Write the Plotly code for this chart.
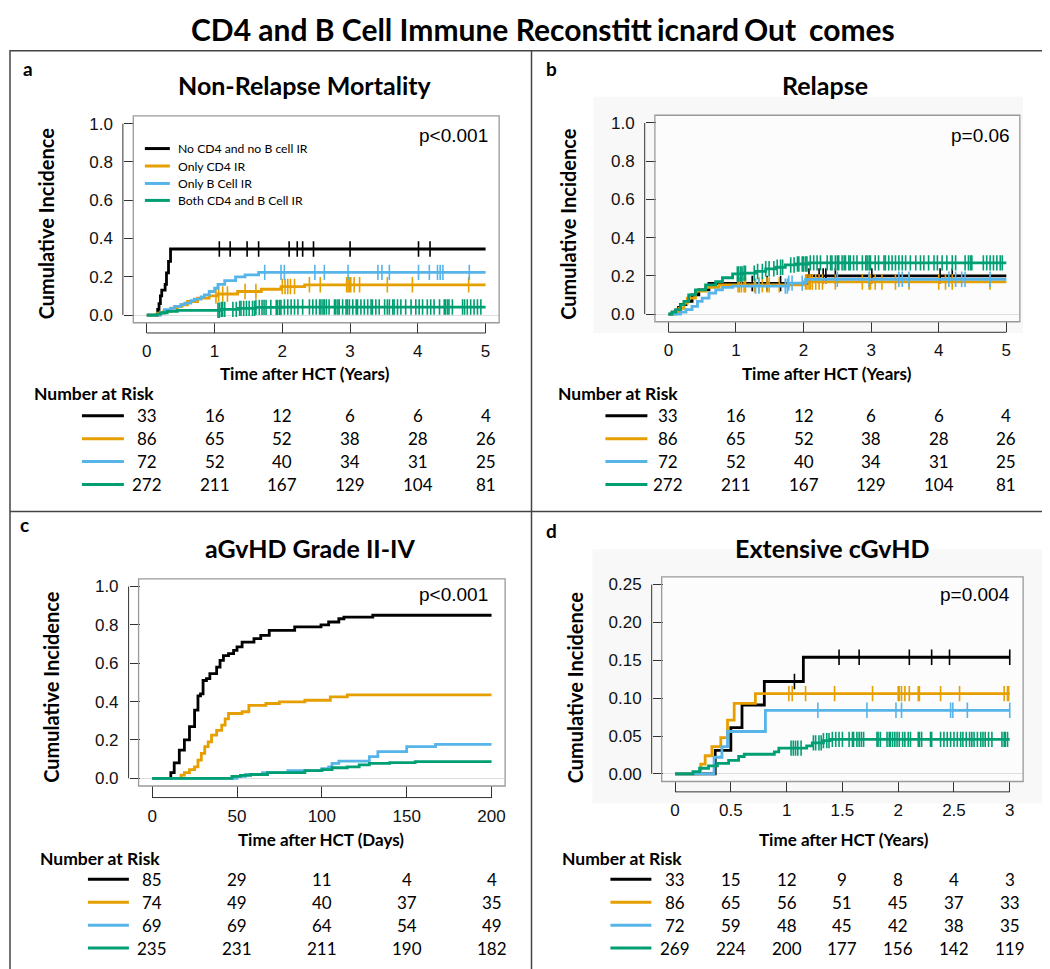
import numpy as np
import plotly.graph_objects as go

W, H = 1050, 969
def PX(x): return x / W
def PY(y): return 1 - y / H

GROUPS = ["No CD4 and no B cell IR", "Only CD4 IR", "Only B Cell IR", "Both CD4 and B Cell IR"]
COLORS = ["#000000", "#E69F00", "#56B4E9", "#009E73"]

# ---------------- Panel a: Non-Relapse Mortality (years) ----------------
a_black_t = [0, 0.16, 0.18, 0.2, 0.22, 0.27, 0.29, 0.32, 0.35, 5]
a_black_y = [0, 0.03, 0.06, 0.1, 0.13, 0.16, 0.22, 0.28, 0.345, 0.345]
a_black_c = [1.07, 1.23, 1.48, 1.65, 2.10, 2.22, 2.30, 2.46, 3.0, 4.01, 4.18]
a_orange_t = [0, 0.16, 0.25, 0.36, 0.45, 0.52, 0.6, 0.75, 0.92, 1.05, 1.34, 1.69, 1.98, 2.33, 5]
a_orange_y = [0, 0.01, 0.02, 0.036, 0.045, 0.054, 0.071, 0.089, 0.1, 0.11, 0.123, 0.135, 0.149, 0.158, 0.158]
a_orange_c = [1.02, 1.06, 1.12, 1.19, 1.45, 1.61, 2.0, 2.04, 2.08, 2.12, 2.18, 2.4, 2.56, 2.95, 2.97,
              2.99, 3.01, 3.06, 3.14, 3.55, 3.92, 4.75]
a_blue_t = [0, 0.2, 0.26, 0.35, 0.41, 0.5, 0.56, 0.65, 0.7, 0.8, 0.85, 0.92, 1.0, 1.05, 1.15, 1.31, 1.45, 1.65, 5]
a_blue_y = [0, 0.01, 0.028, 0.035, 0.045, 0.055, 0.0625, 0.075, 0.083, 0.095, 0.106, 0.123, 0.14, 0.16,
            0.18, 0.2, 0.21, 0.223, 0.223]
a_blue_c = [1.74, 1.98, 2.03, 2.48, 2.62, 2.97, 3.41, 3.47, 3.58, 4.01, 4.17, 4.29, 4.33, 4.37, 4.76]
a_green_t = [0, 0.15, 0.2, 0.3, 0.45, 1.1, 1.35, 1.6, 2.0, 5]
a_green_y = [0, 0.005, 0.012, 0.019, 0.025, 0.03, 0.035, 0.04, 0.042, 0.042]
a_green_c = [1.05, 1.07, 1.10, 1.12, 1.15, 1.27, 1.32, 1.37, 1.39, 1.43, 1.47, 1.51, 1.56, 1.59, 1.61,
             1.66, 1.70, 1.73, 1.76, 1.83, 1.91, 1.93, 1.96, 1.98, 2.03, 2.08, 2.13, 2.18, 2.23, 2.30,
             2.40, 2.45, 2.50, 2.55, 2.57, 2.60, 2.62, 2.65, 2.69, 2.77, 2.79, 2.82, 2.84, 2.89, 2.94,
             2.96, 2.99, 3.04, 3.09, 3.11, 3.16, 3.21, 3.26, 3.31, 3.33, 3.38, 3.43, 3.51, 3.55, 3.58,
             3.63, 3.65, 3.70, 3.75, 3.82, 3.90, 3.97, 4.02, 4.07, 4.14, 4.19, 4.24, 4.32, 4.39, 4.41,
             4.44, 4.46, 4.51, 4.66, 4.69, 4.73, 4.78, 4.83, 4.88, 4.93]

# ---------------- Panel b: Relapse (years) ----------------
b_black_t = [0, 0.06, 0.11, 0.15, 0.18, 0.26, 0.35, 0.45, 0.6, 2.05, 5]
b_black_y = [0, 0.01, 0.02, 0.035, 0.05, 0.066, 0.1, 0.127, 0.16, 0.2, 0.2]
b_black_c = [1.24, 1.46, 1.66, 2.08, 2.23, 2.29, 2.33, 2.47, 3.01, 4.02, 4.2]
b_orange_t = [0, 0.11, 0.16, 0.23, 0.28, 0.4, 0.55, 0.75, 2.0, 5]
b_orange_y = [0, 0.01, 0.03, 0.057, 0.083, 0.12, 0.14, 0.153, 0.168, 0.168]
b_orange_c = [1.03, 1.05, 1.08, 1.12, 1.14, 1.27, 1.34, 1.39, 1.46, 1.49, 1.64, 2.03, 2.05, 2.08, 2.1,
              2.13, 2.18, 2.23, 2.28, 2.47, 2.87, 2.97, 2.99, 3.06, 3.16, 3.36, 3.56, 4.0, 4.1, 4.2, 4.76]
b_blue_t = [0, 0.18, 0.26, 0.35, 0.43, 0.5, 0.6, 0.7, 0.8, 0.95, 1.78, 2.03, 5]
b_blue_y = [0, 0.01, 0.023, 0.04, 0.066, 0.083, 0.11, 0.127, 0.14, 0.146, 0.162, 0.182, 0.182]
b_blue_c = [1.29, 1.34, 1.73, 1.76, 1.78, 1.83, 1.98, 2.5, 2.97, 3.41, 3.46, 3.56, 4.15, 4.25, 4.34,
            4.39, 4.76]
b_green_t = [0, 0.05, 0.11, 0.18, 0.23, 0.3, 0.4, 0.55, 0.7, 0.8, 0.95, 1.1, 1.3, 1.44, 1.59, 1.73,
             1.88, 2.08, 5]
b_green_y = [0, 0.01, 0.023, 0.049, 0.066, 0.1, 0.127, 0.153, 0.17, 0.19, 0.21, 0.214, 0.223, 0.237,
             0.245, 0.257, 0.262, 0.268, 0.268]
b_green_c = [1.02, 1.04, 1.07, 1.09, 1.12, 1.14, 1.27, 1.32, 1.39, 1.44, 1.49, 1.56, 1.61, 1.66, 1.69,
             1.81, 1.86, 1.91, 1.93, 1.98, 2.0, 2.03, 2.05, 2.10, 2.15, 2.2, 2.25, 2.35, 2.4, 2.42,
             2.47, 2.5, 2.52, 2.57, 2.6, 2.62, 2.67, 2.69, 2.74, 2.79, 2.87, 2.92, 2.94, 2.97, 2.99,
             3.06, 3.11, 3.19, 3.21, 3.26, 3.31, 3.36, 3.41, 3.46, 3.51, 3.58, 3.66, 3.73, 3.78, 3.85,
             3.93, 3.98, 4.05, 4.12, 4.2, 4.25, 4.39, 4.44, 4.47, 4.49, 4.66, 4.71, 4.76, 4.81, 4.86,
             4.91, 4.94]

# ---------------- Panel c: aGvHD Grade II-IV (days) ----------------
c_black_t = [0, 11, 13, 16, 19, 22, 25, 27, 28.5, 30, 32, 34, 38, 40, 42, 45, 48, 50, 53, 60, 64, 69,
             84, 99.5, 104, 110, 113, 130, 200]
c_black_y = [0, 0.03, 0.08, 0.147, 0.2, 0.27, 0.355, 0.43, 0.44, 0.51, 0.52, 0.546, 0.58, 0.615, 0.64,
             0.65, 0.667, 0.685, 0.71, 0.728, 0.745, 0.771, 0.789, 0.8, 0.815, 0.832, 0.84, 0.85, 0.85]
c_orange_t = [0, 17, 19, 22, 25, 27, 29, 31, 33, 35, 38, 41, 43, 45, 53, 57, 67, 75, 90, 105, 115, 200]
c_orange_y = [0, 0.017, 0.03, 0.045, 0.06, 0.095, 0.13, 0.165, 0.19, 0.225, 0.25, 0.277, 0.31, 0.338,
              0.347, 0.38, 0.39, 0.398, 0.407, 0.425, 0.435, 0.435]
c_blue_t = [0, 50, 55, 65, 80, 100, 104, 106, 110, 128, 133, 150, 167, 200]
c_blue_y = [0, 0.01, 0.02, 0.03, 0.04, 0.05, 0.06, 0.078, 0.09, 0.113, 0.139, 0.165, 0.177, 0.177]
c_green_t = [0, 47, 52, 58, 68, 90, 100, 106, 115, 122, 128, 140, 155, 200]
c_green_y = [0, 0.01, 0.015, 0.02, 0.03, 0.04, 0.045, 0.055, 0.06, 0.07, 0.078, 0.082, 0.087, 0.087]

# ---------------- Panel d: Extensive cGvHD (years) ----------------
d_black_t = [0, 0.36, 0.5, 0.6, 0.8, 1.15, 3]
d_black_y = [0, 0.031, 0.061, 0.091, 0.122, 0.154, 0.154]
d_black_c = [1.07, 1.47, 1.65, 2.10, 2.30, 2.46, 3.0]
d_orange_t = [0, 0.23, 0.27, 0.33, 0.41, 0.47, 0.53, 0.72, 3]
d_orange_y = [0, 0.013, 0.024, 0.036, 0.048, 0.071, 0.093, 0.106, 0.106]
d_orange_c = [1.02, 1.05, 1.17, 1.43, 1.77, 2.0, 2.01, 2.03, 2.06, 2.10, 2.18, 2.19, 2.38, 2.55, 2.95,
              2.98, 2.99]
d_blue_t = [0, 0.35, 0.42, 0.47, 0.81, 3]
d_blue_y = [0, 0.022, 0.036, 0.056, 0.084, 0.084]
d_blue_c = [1.28, 1.72, 1.98, 2.03, 2.47, 2.49, 2.62, 3.0]
d_green_t = [0, 0.16, 0.22, 0.3, 0.38, 0.48, 0.57, 0.62, 0.89, 0.93, 1.18, 1.23, 1.33, 1.39, 3]
d_green_y = [0, 0.003, 0.0075, 0.0105, 0.014, 0.018, 0.023, 0.026, 0.029, 0.034, 0.037, 0.041, 0.044,
             0.0456, 0.0456]
d_green_c = [1.04, 1.06, 1.08, 1.10, 1.13, 1.24, 1.26, 1.29, 1.31, 1.33, 1.36, 1.38, 1.41, 1.44, 1.47,
             1.50, 1.56, 1.59, 1.60, 1.63, 1.65, 1.67, 1.69, 1.81, 1.82, 1.84, 1.90, 1.92, 1.93, 1.95,
             1.97, 1.99, 2.01, 2.04, 2.06, 2.09, 2.11, 2.18, 2.19, 2.21, 2.29, 2.30, 2.38, 2.41, 2.44,
             2.47, 2.50, 2.53, 2.56, 2.58, 2.61, 2.64, 2.66, 2.68, 2.71, 2.74, 2.76, 2.78, 2.81, 2.84,
             2.93, 2.95, 2.96, 2.98]

# ---------------- Number at risk ----------------
risk_times_ab = [0, 1, 2, 3, 4, 5]
risk_ab = [[33, 16, 12, 6, 6, 4],
           [86, 65, 52, 38, 28, 26],
           [72, 52, 40, 34, 31, 25],
           [272, 211, 167, 129, 104, 81]]
risk_times_c = [0, 50, 100, 150, 200]
risk_c = [[85, 29, 11, 4, 4],
          [74, 49, 40, 37, 35],
          [69, 69, 64, 54, 49],
          [235, 231, 211, 190, 182]]
risk_times_d = [0, 0.5, 1, 1.5, 2, 2.5, 3]
risk_d = [[33, 15, 12, 9, 8, 4, 3],
          [86, 65, 56, 51, 45, 37, 33],
          [72, 59, 48, 45, 42, 38, 35],
          [269, 224, 200, 177, 156, 142, 119]]

TITLE_FONT = "Lato"
NUM_FONT = "Liberation Sans"

panels = [
    dict(key="a", title="Non-Relapse Mortality", p="p<0.001", xl="Time after HCT (Years)",
         curves=[(a_black_t, a_black_y, a_black_c), (a_orange_t, a_orange_y, a_orange_c),
                 (a_blue_t, a_blue_y, a_blue_c), (a_green_t, a_green_y, a_green_c)],
         xdom=(125.4, 491.6), ydom=(107.3, 314.7), xr=[-0.2, 5.2], yr=[-0.04, 1.04],
         xt=[0, 1, 2, 3, 4, 5], xtt=["0", "1", "2", "3", "4", "5"], yt=[0, 0.2, 0.4, 0.6, 0.8, 1.0], yfmt=".1f",
         ypos=115, xpos=325, lab=(13, 60), tpos=(297, 76), ppos=(482, 127), ytpos=(38, 215), xtpos=(297, 366),
         risk_t=risk_times_ab, risk=risk_ab, nar=(24, 386), rows=[408, 431, 454, 477], sw=(74, 116), bg=None),
    dict(key="b", title="Relapse", p="p=0.06", xl="Time after HCT (Years)",
         curves=[(b_black_t, b_black_y, b_black_c), (b_orange_t, b_orange_y, b_orange_c),
                 (b_blue_t, b_blue_y, b_blue_c), (b_green_t, b_green_y, b_green_c)],
         xdom=(647.5, 1012.8), ydom=(106.6, 313.7), xr=[-0.2, 5.2], yr=[-0.04, 1.04],
         xt=[0, 1, 2, 3, 4, 5], xtt=["0", "1", "2", "3", "4", "5"], yt=[0, 0.2, 0.4, 0.6, 0.8, 1.0], yfmt=".1f",
         ypos=637.3, xpos=324.3, lab=(537, 60), tpos=(818, 76), ppos=(1005, 127), ytpos=(561, 215),
         xtpos=(820, 366),
         risk_t=risk_times_ab, risk=risk_ab, nar=(549, 386), rows=[408, 431, 454, 477], sw=(598, 640),
         bg=(586, 88, 1016, 325)),
    dict(key="c", title="aGvHD Grade II-IV", p="p<0.001", xl="Time after HCT (Days)",
         curves=[(c_black_t, c_black_y, []), (c_orange_t, c_orange_y, []),
                 (c_blue_t, c_blue_y, []), (c_green_t, c_green_y, [])],
         xdom=(130.7, 497.6), ydom=(571.6, 779.4), xr=[-8, 208], yr=[-0.04, 1.04],
         xt=[0, 50, 100, 150, 200], xtt=["0", "50", "100", "150", "200"], yt=[0, 0.2, 0.4, 0.6, 0.8, 1.0],
         yfmt=".1f",
         ypos=120.7, xpos=791, lab=(10, 517), tpos=(302, 541), ppos=(482, 587), ytpos=(43, 680),
         xtpos=(313, 833),
         risk_t=risk_times_c, risk=risk_c, nar=(30, 852), rows=[873, 896, 919, 942], sw=(80, 121), bg=None),
    dict(key="d", title="Extensive cGvHD", p="p=0.004", xl="Time after HCT (Years)",
         curves=[(d_black_t, d_black_y, d_black_c), (d_orange_t, d_orange_y, d_orange_c),
                 (d_blue_t, d_blue_y, d_blue_c), (d_green_t, d_green_y, d_green_c)],
         xdom=(654.3, 1016.1), ydom=(569.7, 774.9), xr=[-0.12, 3.12], yr=[-0.01, 0.26],
         xt=[0, 0.5, 1, 1.5, 2, 2.5, 3], xtt=["0", "0.5", "1", "1.5", "2", "2.5", "3"],
         yt=[0, 0.05, 0.10, 0.15, 0.20, 0.25], yfmt=".2f",
         ypos=644.3, xpos=785.3, lab=(537, 523), tpos=(825, 541), ppos=(1005, 587), ytpos=(567, 680),
         xtpos=(837, 833),
         risk_t=risk_times_d, risk=risk_d, nar=(553, 852), rows=[873, 896, 919, 942], sw=(603, 644),
         bg=(585, 542, 1036, 797)),
]


def step_at(ts, ys, t):
    idx = np.searchsorted(np.asarray(ts), t, side="right") - 1
    return [ys[i] for i in idx]


fig = go.Figure()
shapes = []
annotations = []
layout_axes = {}

for i, P in enumerate(panels):
    n = "" if i == 0 else str(i + 1)
    xa, ya = "x" + n, "y" + n
    for g, (ts, ys, cs) in enumerate(P["curves"]):
        fig.add_trace(go.Scatter(x=ts, y=ys, mode="lines", line=dict(color=COLORS[g], width=2.8, shape="hv"),
                                 xaxis=xa, yaxis=ya, showlegend=False, hoverinfo="skip"))
        if cs:
            fig.add_trace(go.Scatter(x=cs, y=step_at(ts, ys, cs), mode="markers",
                                     marker=dict(symbol="line-ns", size=11,
                                                 line=dict(color=COLORS[g], width=1.6)),
                                     xaxis=xa, yaxis=ya, showlegend=False, hoverinfo="skip"))
    x0, x1 = P["xdom"]
    yt0, yb0 = P["ydom"]
    layout_axes["xaxis" + n] = dict(domain=[PX(x0), PX(x1)], range=P["xr"], anchor="free",
                                    position=PY(P["xpos"]), tickvals=P["xt"], ticktext=P["xtt"],
                                    ticks="inside", ticklen=P["xpos"] - yb0, tickwidth=1, tickcolor="#333",
                                    showgrid=False, zeroline=False, showline=False, ticklabelstandoff=6,
                                    tickfont=dict(family=NUM_FONT, size=17, color="#111"))
    layout_axes["yaxis" + n] = dict(domain=[PY(yb0), PY(yt0)], range=P["yr"], anchor="free",
                                    position=PX(P["ypos"]), tickvals=P["yt"], tickformat=P["yfmt"],
                                    ticks="inside", ticklen=x0 - P["ypos"], tickwidth=1, tickcolor="#333",
                                    showgrid=False, zeroline=True, zerolinecolor="#dddddd", zerolinewidth=1,
                                    showline=False, ticklabelstandoff=10,
                                    tickfont=dict(family=NUM_FONT, size=17, color="#111"))
    if P["bg"]:
        bx0, by0, bx1, by1 = P["bg"]
        shapes.append(dict(type="rect", xref="paper", yref="paper", x0=PX(bx0), x1=PX(bx1), y0=PY(by1),
                           y1=PY(by0), fillcolor="#f8f8f8", line=dict(width=0), layer="below"))
        shapes.append(dict(type="rect", xref=xa + " domain", yref=ya + " domain", x0=0, x1=1, y0=0, y1=1,
                           fillcolor="#fcfcfc", line=dict(width=0), layer="below"))
    shapes.append(dict(type="rect", xref=xa + " domain", yref=ya + " domain", x0=0, x1=1, y0=0, y1=1,
                       line=dict(color="#9a9a9a", width=1.3), layer="above"))
    shapes.append(dict(type="line", xref="paper", yref=ya, x0=PX(P["ypos"]), x1=PX(P["ypos"]),
                       y0=P["yt"][0], y1=P["yt"][-1], line=dict(color="#333", width=1)))
    shapes.append(dict(type="line", xref=xa, yref="paper", x0=P["xt"][0], x1=P["xt"][-1],
                       y0=PY(P["xpos"]), y1=PY(P["xpos"]), line=dict(color="#333", width=1)))
    annotations.append(dict(text="<b>%s</b>" % P["key"], x=PX(P["lab"][0]), y=PY(P["lab"][1]),
                            xref="paper", yref="paper", xanchor="left", yanchor="middle", showarrow=False,
                            font=dict(family=TITLE_FONT, size=19, color="#000")))
    annotations.append(dict(text="<b>%s</b>" % P["title"], x=PX(P["tpos"][0]), y=PY(P["tpos"][1]),
                            xref="paper", yref="paper", xanchor="center", yanchor="middle", showarrow=False,
                            font=dict(family=TITLE_FONT, size=25, color="#000")))
    annotations.append(dict(text=P["p"], x=PX(P["ppos"][0]), y=PY(P["ppos"][1]),
                            xref="paper", yref="paper", xanchor="right", yanchor="middle", showarrow=False,
                            font=dict(family=NUM_FONT, size=19, color="#000")))
    annotations.append(dict(text="<b>Cumulative Incidence</b>", x=PX(P["ytpos"][0]), y=PY(P["ytpos"][1]),
                            xref="paper", yref="paper", xanchor="center", yanchor="middle", showarrow=False,
                            textangle=-90, font=dict(family=TITLE_FONT, size=20, color="#000")))
    annotations.append(dict(text="<b>%s</b>" % P["xl"], x=PX(P["xtpos"][0]), y=PY(P["xtpos"][1]),
                            xref="paper", yref="paper", xanchor="center", yanchor="middle", showarrow=False,
                            font=dict(family=TITLE_FONT, size=17, color="#000")))
    annotations.append(dict(text="<b>Number at Risk</b>", x=PX(P["nar"][0]), y=PY(P["nar"][1]),
                            xref="paper", yref="paper", xanchor="left", yanchor="middle", showarrow=False,
                            font=dict(family=TITLE_FONT, size=17.5, color="#000")))
    for g in range(4):
        ry = P["rows"][g]
        shapes.append(dict(type="line", xref="paper", yref="paper", x0=PX(P["sw"][0]), x1=PX(P["sw"][1]),
                           y0=PY(ry), y1=PY(ry), line=dict(color=COLORS[g], width=3)))
        for t, v in zip(P["risk_t"], P["risk"][g]):
            annotations.append(dict(text=str(v), x=t, y=PY(ry), xref=xa, yref="paper", xanchor="center",
                                    yanchor="middle", showarrow=False,
                                    font=dict(family=TITLE_FONT, size=17, color="#000")))

# legend (panel a)
leg_rows = [140, 157.5, 175, 192]
for g in range(4):
    shapes.append(dict(type="line", xref="paper", yref="paper", x0=PX(137), x1=PX(162),
                       y0=PY(leg_rows[g]), y1=PY(leg_rows[g]), line=dict(color=COLORS[g], width=3)))
    annotations.append(dict(text=GROUPS[g], x=PX(168), y=PY(leg_rows[g]), xref="paper", yref="paper",
                            xanchor="left", yanchor="middle", showarrow=False,
                            font=dict(family=TITLE_FONT, size=12.2, color="#000")))

# panel borders
border = dict(color="#444", width=1.5)
shapes.append(dict(type="rect", xref="paper", yref="paper", x0=PX(2), x1=PX(1046), y0=PY(967), y1=PY(42),
                   line=border))
shapes.append(dict(type="line", xref="paper", yref="paper", x0=PX(524), x1=PX(524), y0=PY(967), y1=PY(42),
                   line=border))
shapes.append(dict(type="line", xref="paper", yref="paper", x0=PX(2), x1=PX(1046), y0=PY(504), y1=PY(504),
                   line=border))

# main (garbled) title, as rendered in the reference
title_parts = [("CD4 and B Cell Immune Reconstitt", 181), ("icnard", 648), ("Out", 735), ("comes", 800)]
for txt, xp in title_parts:
    annotations.append(dict(text="<b>%s</b>" % txt, x=PX(xp), y=PY(20), xref="paper", yref="paper",
                            xanchor="left", yanchor="middle", showarrow=False,
                            font=dict(family=TITLE_FONT, size=30, color="#000")))

fig.update_layout(width=W, height=H, margin=dict(l=0, r=0, t=0, b=0), paper_bgcolor="white",
                  plot_bgcolor="rgba(0,0,0,0)", shapes=shapes, annotations=annotations, showlegend=False,
                  **layout_axes)
fig.write_html("out.html")
